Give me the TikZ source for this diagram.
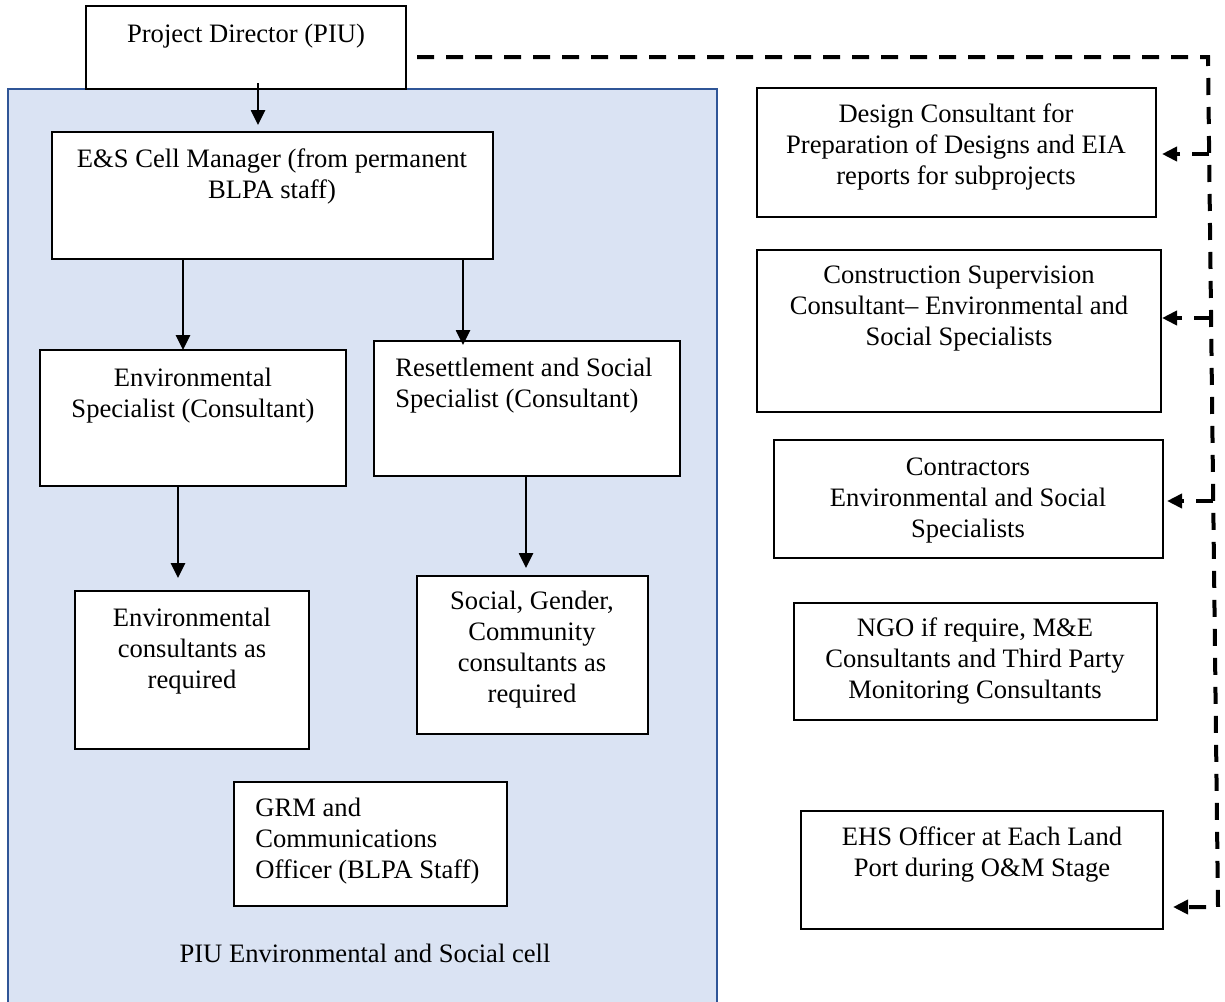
\documentclass[tikz,border=0pt]{standalone}
\usepackage{fontspec}
\setmainfont{Liberation Serif}
\usetikzlibrary{arrows.meta,calc}
\definecolor{cellfill}{RGB}{218,227,243}
\definecolor{cellline}{RGB}{47,85,151}
\newcommand\mybox[5]{\node[box, minimum width={(#4-#2)*0.5pt}, minimum height={(#5-#3)*0.5pt}] (#1) at (#2,#3) {};}
\begin{document}
\begin{tikzpicture}[x=0.5pt,y=-0.5pt,
  box/.style={draw=black, fill=white, line width=0.9pt, inner sep=0pt, outer sep=0pt, anchor=north west},
  txt/.style={font=\fontsize{13.3}{15.4}\selectfont, inner sep=0pt, anchor=base, align=center},
  ltxt/.style={txt, anchor=base west, align=left},
  arr/.style={line width=1.3pt, -{Triangle[length=7.5pt,width=7pt]}},
  dline/.style={line width=2pt, dash pattern=on 8.5pt off 6pt, -{Triangle[length=7.5pt,width=7pt]}},
]
\clip (0,0) rectangle (1225,1001);
% PIU cell background
\node[draw=cellline, fill=cellfill, line width=1pt, inner sep=0pt, outer sep=0pt, anchor=north west,
      minimum width=354.5pt, minimum height=460.5pt] (cell) at (8,89) {};
% boxes
\mybox{pd}{86}{6}{406}{89}
\mybox{es}{52}{132}{493}{259}
\mybox{env}{40}{350}{346}{486}
\mybox{res}{374}{341}{680}{476}
\mybox{envc}{75}{591}{309}{749}
\mybox{soc}{417}{576}{648}{734}
\mybox{grm}{234}{782}{507}{906}
\mybox{dc}{757}{88}{1156}{217}
\mybox{cs}{757}{250}{1161}{412}
\mybox{con}{774}{440}{1163}{558}
\mybox{ngo}{794}{603}{1157}{720}
\mybox{ehs}{801}{811}{1163}{929}
% texts (anchor = baseline of the last line)
\node[txt] (pdt) at (246,42) {Project Director (PIU)};
\node[txt] (est) at (272,198) {E\&S Cell Manager (from permanent\\BLPA staff)};
\node[txt] (envt) at (193,417) {Environmental\\Specialist (Consultant)};
\node[ltxt] (rest) at (395,407) {Resettlement and Social\\Specialist (Consultant)};
\node[txt] (envct) at (192,688) {Environmental\\consultants as\\required};
\node[txt] (soct) at (532,702) {Social, Gender,\\Community\\consultants as\\required};
\node[ltxt] (grmt) at (255,878) {GRM and\\Communications\\Officer (BLPA Staff)};
\node[txt] (cellt) at (365,962) {PIU Environmental and Social cell};
\node[txt] (dct) at (956,184) {Design Consultant for\\Preparation of Designs and EIA\\reports for subprojects};
\node[txt] (cst) at (959,345) {Construction Supervision\\Consultant– Environmental and\\Social Specialists};
\node[txt] (cont) at (968,537) {Contractors\\Environmental and Social\\Specialists};
\node[txt] (ngot) at (975,698) {NGO if require, M\&E\\Consultants and Third Party\\Monitoring Consultants};
\node[txt] (ehst) at (982,876) {EHS Officer at Each Land\\Port during O\&M Stage};
% solid arrows
\draw[arr, shorten >=3.5pt] ($(pd.south)+(12,-6)$) -- ($(es.north)+(-14.5,0)$);
\draw[arr] ($(es.south)+(-89.5,0)$) -- ($(env.north)+(-10,0)$);
\draw[arr, shorten >=-2pt] ($(es.south)+(190.5,0)$) -- ($(res.north)+(-64,0)$);
\draw[arr, shorten >=6.5pt] ($(env.south)+(-15,0)$) -- ($(envc.north)+(-14,0)$);
\draw[arr, shorten >=4pt] ($(res.south)+(-1,0)$) -- ($(soc.north)+(-6.5,0)$);
% dashed connectors
\coordinate (tr) at (1208,57);
\coordinate (br) at (1218,907);
\draw[dline, shorten >=5pt] ($(pd.east)+(11,9.5)$) -- (tr) -- (br) -- (br -| ehs.east);
\coordinate (b1) at (1209,154);
\coordinate (b2) at (1211,318);
\coordinate (b3) at (1213,501);
\draw[dline, shorten >=3pt] (b1) -- (b1 -| dc.east);
\draw[dline, shorten >=0.5pt] (b2) -- (b2 -| cs.east);
\draw[dline, shorten >=2pt] (b3) -- (b3 -| con.east);
\end{tikzpicture}
\end{document}
